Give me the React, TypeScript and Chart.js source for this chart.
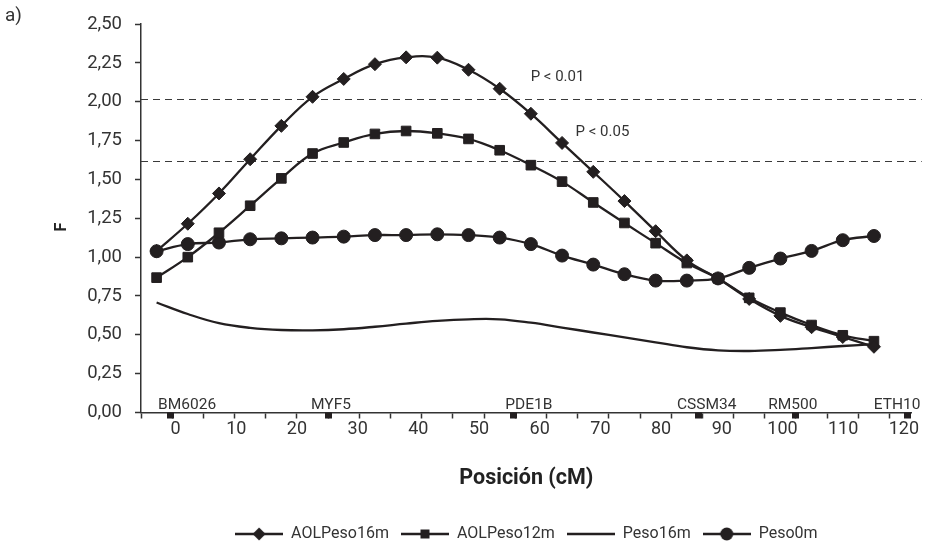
import React, { useEffect, useRef } from 'react';
import { Chart, registerables } from 'chart.js';

Chart.register(...registerables);

// ---------- data ----------
const positions = [0, 5, 10, 15, 20, 25, 30, 35, 40, 45, 50, 55, 60, 65, 70, 75, 80, 85, 90, 95, 100, 105, 110, 115];

const aolPeso16m = [1.04, 1.215, 1.41, 1.63, 1.845, 2.032, 2.147, 2.242, 2.286, 2.284, 2.206, 2.084, 1.923, 1.735, 1.549, 1.361, 1.167, 0.979, 0.863, 0.731, 0.622, 0.549, 0.486, 0.423];
const aolPeso12m = [0.868, 1.0, 1.157, 1.331, 1.507, 1.667, 1.738, 1.793, 1.812, 1.797, 1.761, 1.688, 1.592, 1.486, 1.352, 1.22, 1.09, 0.962, 0.863, 0.738, 0.643, 0.563, 0.497, 0.459];
const peso16m = [0.708, 0.634, 0.575, 0.545, 0.531, 0.529, 0.536, 0.552, 0.572, 0.59, 0.6, 0.6, 0.578, 0.547, 0.515, 0.484, 0.452, 0.42, 0.4, 0.396, 0.403, 0.415, 0.428, 0.44];
const peso0m = [1.038, 1.084, 1.094, 1.115, 1.121, 1.126, 1.132, 1.142, 1.142, 1.147, 1.142, 1.126, 1.084, 1.01, 0.952, 0.89, 0.849, 0.849, 0.863, 0.931, 0.991, 1.04, 1.109, 1.136];

const seriesNames = ['AOLPeso16m', 'AOLPeso12m', 'Peso16m', 'Peso0m'];

const xTickLabels = [0, 10, 20, 30, 40, 50, 60, 70, 80, 90, 100, 110, 120];

const markerNames = ['BM6026', 'MYF5', 'PDE1B', 'CSSM34', 'RM500', 'ETH10'];
const markerPos = [-0.9, 25.2, 55.7, 86.2, 102.1, 120.6];
const markerLabelPos = [1.9, 25.6, 58.2, 87.5, 101.7, 118.9];

const thresholds = [2.02, 1.62];
const thresholdLabels = ['P < 0.01', 'P < 0.05'];
const thresholdLabelX = [58.5, 65.9];
const thresholdLabelY = [2.133, 1.782];

// ---------- styles ----------
const INK = '#231f20';
const AXIS = '#333333';
const TEXT = '#333333';
const FONT = 'Roboto, "DejaVu Sans Condensed", sans-serif';

function makeSymbol(kind: string): HTMLCanvasElement {
  const c = document.createElement('canvas');
  c.width = 48;
  c.height = 16;
  const g = c.getContext('2d')!;
  g.strokeStyle = INK;
  g.fillStyle = INK;
  g.lineWidth = 2.5;
  g.beginPath();
  g.moveTo(0, 8);
  g.lineTo(48, 8);
  g.stroke();
  g.beginPath();
  if (kind === 'diamond') {
    g.moveTo(24 - 6.5, 8);
    g.lineTo(24, 8 - 6.5);
    g.lineTo(24 + 6.5, 8);
    g.lineTo(24, 8 + 6.5);
    g.closePath();
    g.fill();
  } else if (kind === 'square') {
    g.rect(24 - 4.5, 8 - 4.5, 9, 9);
    g.fill();
  } else if (kind === 'circle') {
    g.arc(24, 8, 6.5, 0, Math.PI * 2);
    g.fill();
  }
  return c;
}

const annotations = {
  id: 'annotations',
  beforeDatasetsDraw(chart: any) {
    const { ctx, chartArea } = chart;
    const ys = chart.scales.y;
    ctx.save();
    ctx.strokeStyle = '#3a3a3a';
    ctx.lineWidth = 1.2;
    ctx.setLineDash([7, 5]);
    thresholds.forEach((t) => {
      const y = Math.round(ys.getPixelForValue(t)) + 0.5;
      ctx.beginPath();
      ctx.moveTo(chartArea.left, y);
      ctx.lineTo(chartArea.right + 10, y);
      ctx.stroke();
    });
    ctx.restore();
  },
  afterDraw(chart: any) {
    const { ctx, chartArea } = chart;
    const ys = chart.scales.y;
    const xl = chart.scales.xl;
    ctx.save();
    ctx.fillStyle = TEXT;
    ctx.textBaseline = 'alphabetic';
    // threshold labels
    ctx.font = `15px ${FONT}`;
    ctx.textAlign = 'left';
    thresholdLabels.forEach((txt, i) => {
      ctx.fillText(txt, xl.getPixelForValue(thresholdLabelX[i]), ys.getPixelForValue(thresholdLabelY[i]));
    });
    // markers on the axis
    ctx.fillStyle = INK;
    markerPos.forEach((p) => {
      const x = xl.getPixelForValue(p);
      ctx.fillRect(Math.round(x - 3.5), chartArea.bottom, 7, 6);
    });
    ctx.fillStyle = TEXT;
    ctx.font = `15.5px ${FONT}`;
    ctx.textAlign = 'center';
    markerNames.forEach((n, i) => {
      ctx.fillText(n, xl.getPixelForValue(markerLabelPos[i]), chartArea.bottom - 3.5);
    });
    // panel letter
    ctx.font = `19px ${FONT}`;
    ctx.textAlign = 'left';
    ctx.fillText('a)', 5, 21);
    // y axis title
    ctx.save();
    ctx.translate(61.5, 227);
    ctx.rotate(-Math.PI / 2);
    ctx.font = `bold 16px ${FONT}`;
    ctx.textAlign = 'center';
    ctx.textBaseline = 'middle';
    ctx.fillStyle = '#222';
    ctx.fillText('F', 0, 0);
    ctx.restore();
    ctx.restore();
  },
};

export default function App() {
  const ref = useRef<HTMLCanvasElement | null>(null);

  useEffect(() => {
    if (!ref.current) return;
    const symbols = [makeSymbol('diamond'), makeSymbol('square'), makeSymbol('none'), makeSymbol('circle')];
    const bounds = [...positions.map((p) => p - 2.5), positions[positions.length - 1] + 2.5];

    const mk = (label: string, data: number[], style: any, radius: number) => ({
      label,
      data: positions.map((p, i) => ({ x: p, y: data[i] })),
      xAxisID: 'x',
      yAxisID: 'y',
      borderColor: INK,
      backgroundColor: INK,
      borderWidth: 2.3,
      tension: 0.4,
      pointStyle: style,
      pointRadius: radius,
      pointBackgroundColor: INK,
      pointBorderColor: INK,
      pointBorderWidth: 1,
      fill: false,
    });

    const chart = new Chart(ref.current, {
      type: 'line',
      data: {
        datasets: [
          mk(seriesNames[0], aolPeso16m, 'rectRot', 6.5),
          mk(seriesNames[1], aolPeso12m, 'rect', 6.8),
          mk(seriesNames[2], peso16m, 'circle', 0),
          mk(seriesNames[3], peso0m, 'circle', 6.5),
        ],
      },
      options: {
        responsive: false,
        animation: false,
        devicePixelRatio: 1,
        layout: { padding: { left: 0, top: 15, right: 14.3, bottom: 0 } },
        plugins: {
          tooltip: { enabled: false },
          legend: {
            position: 'bottom',
            fullSize: false,
            labels: {
              usePointStyle: true,
              pointStyleWidth: 48,
              padding: 12,
              color: TEXT,
              font: { family: FONT, size: 16 },
              generateLabels: (c: any) => {
                const items = (Chart.defaults.plugins.legend.labels as any).generateLabels(c);
                return items.map((it: any, i: number) => ({ ...it, pointStyle: symbols[i] }));
              },
            },
          },
        },
        scales: {
          x: {
            type: 'linear',
            position: 'bottom',
            weight: 0,
            min: -2.5,
            max: 121.05,
            afterBuildTicks: (s: any) => {
              s.ticks = bounds.map((v) => ({ value: v }));
            },
            ticks: { display: false },
            grid: { drawOnChartArea: false, drawTicks: true, tickLength: 6, tickWidth: 1.5, tickColor: AXIS },
            border: { display: true, color: AXIS, width: 1.5 },
            afterFit: (s: any) => {
              s.height = 6;
            },
          },
          xl: {
            type: 'linear',
            position: 'bottom',
            weight: 1,
            min: -5.7,
            max: 121.29,
            afterBuildTicks: (s: any) => {
              s.ticks = xTickLabels.map((v) => ({ value: v }));
            },
            ticks: {
              padding: 0,
              autoSkip: false,
              maxRotation: 0,
              color: TEXT,
              font: { family: FONT, size: 18 },
              callback: (v: any) => String(v),
            },
            grid: { display: false, drawTicks: false },
            border: { display: false },
            title: {
              display: true,
              text: 'Posición (cM)',
              color: '#222',
              font: { family: FONT, size: 21.5, weight: 'bold' },
              padding: { top: 0, bottom: 22.4 },
            },
            afterFit: (s: any) => {
              s.height = 95.5;
            },
          },
          y: {
            type: 'linear',
            min: 0,
            max: 2.5,
            ticks: {
              stepSize: 0.25,
              padding: 13,
              color: TEXT,
              font: { family: FONT, size: 18.5 },
              callback: (v: any) => Number(v).toFixed(2).replace('.', ','),
            },
            grid: { drawOnChartArea: false, drawTicks: true, tickLength: 6, tickWidth: 1.5, tickColor: AXIS },
            border: { display: true, color: AXIS, width: 1.5 },
            afterFit: (s: any) => {
              s.width = 141;
            },
          },
        },
      } as any,
      plugins: [annotations],
    });
    return () => chart.destroy();
  }, []);

  return (
    <div style={{ position: 'fixed', left: 0, top: 0, width: 926, height: 552, background: '#fff' }}>
      <canvas ref={ref} width={926} height={552} />
    </div>
  );
}
